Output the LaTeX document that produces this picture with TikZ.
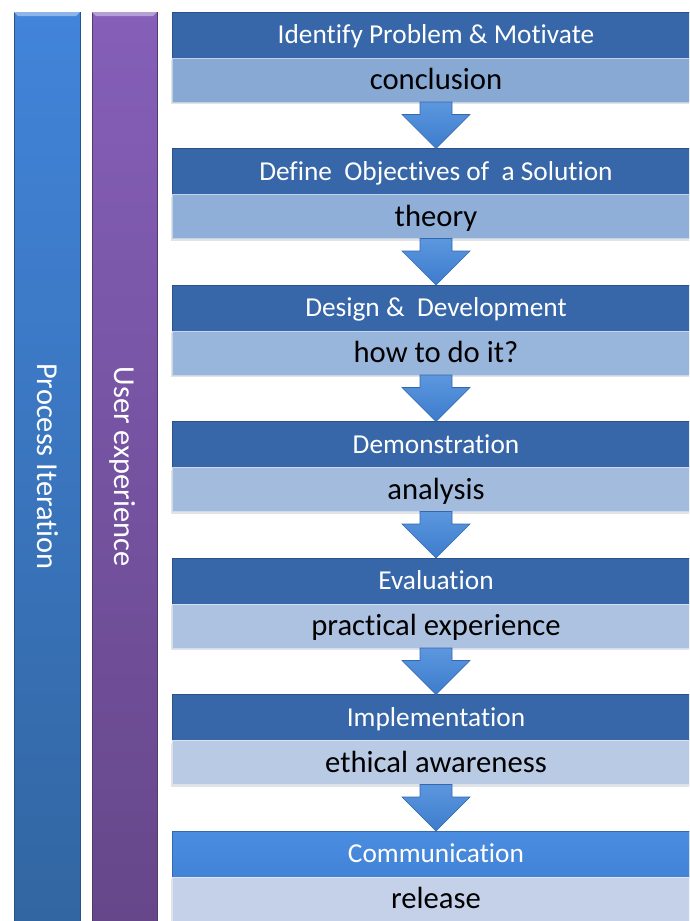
\documentclass[tikz,border=0pt]{standalone}
\usepackage{fontspec}
\setmainfont{Carlito}[Ligatures=NoCommon]
\usetikzlibrary{calc,shadows}

\definecolor{hdrblue}{HTML}{3767A8}
\definecolor{hdrdark}{HTML}{2B5189}
\definecolor{lastblue}{HTML}{4283D6}
\definecolor{lastlight}{HTML}{4A8DE0}
\definecolor{subA}{HTML}{88A9D4}
\definecolor{subB}{HTML}{8FAFD8}
\definecolor{subC}{HTML}{98B5DB}
\definecolor{subD}{HTML}{A3BCDE}
\definecolor{subE}{HTML}{ADC2E1}
\definecolor{subF}{HTML}{B8CAE4}
\definecolor{subG}{HTML}{C4D1E8}
\definecolor{barblueT}{HTML}{4284DA}
\definecolor{barblueB}{HTML}{3266A2}
\definecolor{barpurpT}{HTML}{855FB8}
\definecolor{barpurpB}{HTML}{66478A}
\definecolor{arrowblue}{HTML}{3D7CCD}
\definecolor{arrowlight}{HTML}{5C97DE}
\definecolor{arrowedge}{HTML}{3468AE}

\begin{document}
\begin{tikzpicture}[x=0.75pt,y=-0.75pt,
  hdr/.style={anchor=north west, minimum width=396pt, minimum height=34.5pt,
    inner sep=0pt, outer sep=0pt, fill=hdrblue, draw=hdrdark, line width=0.6pt,
    text=white, font=\fontsize{20.5}{24}\selectfont, text height=13.2pt, text depth=0pt},
  sub/.style={anchor=north west, minimum width=396pt, minimum height=33pt,
    inner sep=0pt, outer sep=0pt, fill=#1, draw=#1!55!white, line width=0.6pt,
    text=black, font=\fontsize{23}{27}\selectfont, text height=14.8pt, text depth=0pt,
    drop shadow={shadow xshift=-1pt, shadow yshift=-1.5pt, opacity=.22}},
  bar/.style n args={2}{rotate=-90, minimum width=681.75pt, minimum height=#2,
    inner sep=0pt, outer sep=0pt, top color=#1T, bottom color=#1B,
    draw=#1B!80!black, line width=0.4pt,
    text=white, font=\fontsize{22.8}{26}\selectfont, text height=14.7pt, text depth=0pt},
  blockarrow/.style={top color=arrowlight, bottom color=arrowblue, draw=arrowedge, line width=0.4pt}
]
\useasboundingbox (0,0) rectangle (689,921);
\clip (0,0) rectangle (689,921);

% side bars with rotated captions
\node[bar={barblue}{49.5pt}] (iter) at (47,466.5) {Process Iteration};
\node[bar={barpurp}{48.75pt}] (ux) at (124.5,466.5) {User experience};
% light bevel along the top of each bar
\fill[barblueT!60!white] (14,12) -- (80,12) -- (76,16) -- (18,16) -- cycle;
\fill[barpurpT!60!white] (92,12) -- (157,12) -- (153,16) -- (96,16) -- cycle;

% process steps: heading band over a lighter text band
\node[hdr] (h1) at (172,12) {Identify Problem \& Motivate};
\node[sub=subA] (s1) at (172,58) {conclusion};

\node[hdr] (h2) at (172,148.5) {Define\ \ Objectives of\ \ a Solution};
\node[sub=subB] (s2) at (172,194.5) {theory};

\node[hdr] (h3) at (172,285) {Design \&\ \ Development};
\node[sub=subC] (s3) at (172,331) {how to do it?};

\node[hdr] (h4) at (172,421.5) {Demonstration};
\node[sub=subD] (s4) at (172,467.5) {analysis};

\node[hdr] (h5) at (172,558) {Evaluation};
\node[sub=subE] (s5) at (172,604) {practical experience};

\node[hdr] (h6) at (172,694.5) {Implementation};
\node[sub=subF] (s6) at (172,740.5) {ethical awareness};

\node[hdr, draw=lastblue!80!black, top color=lastlight, bottom color=lastblue] (h7) at (172,831) {Communication};
\node[sub=subG] (s7) at (172,877) {release};

% block arrows between consecutive steps
\foreach \a/\b in {s1/h2,s2/h3,s3/h4,s4/h5,s5/h6,s6/h7}{
  \shade[blockarrow]
    ($(\a.south)+(-12pt,0pt)$) -- ($(\a.south)+(12pt,0pt)$)
    -- ($(\b.north)+(12pt,25.5pt)$) -- ($(\b.north)+(25.5pt,25.5pt)$)
    -- (\b.north)
    -- ($(\b.north)+(-25.5pt,25.5pt)$) -- ($(\b.north)+(-12pt,25.5pt)$) -- cycle;
}
\end{tikzpicture}
\end{document}
